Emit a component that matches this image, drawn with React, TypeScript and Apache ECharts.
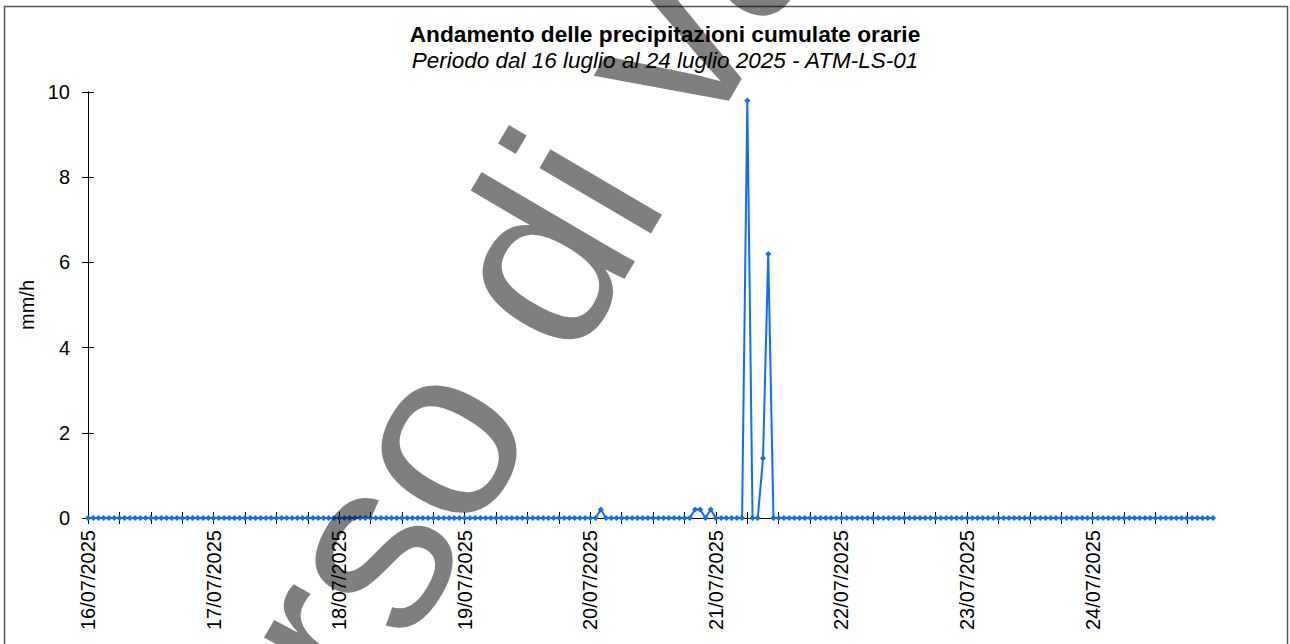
import React, { useEffect, useRef } from "react";
import * as echarts from "echarts";

const days = [
  "16/07/2025", "17/07/2025", "18/07/2025", "19/07/2025", "20/07/2025",
  "21/07/2025", "22/07/2025", "23/07/2025", "24/07/2025",
];
const hours = [
  "00:00", "01:00", "02:00", "03:00", "04:00", "05:00", "06:00", "07:00",
  "08:00", "09:00", "10:00", "11:00", "12:00", "13:00", "14:00", "15:00",
  "16:00", "17:00", "18:00", "19:00", "20:00", "21:00", "22:00", "23:00",
];

// hourly cumulated precipitation (mm/h), one array per day
const rain16 = [0, 0, 0, 0, 0, 0, 0, 0, 0, 0, 0, 0, 0, 0, 0, 0, 0, 0, 0, 0, 0, 0, 0, 0];
const rain17 = [0, 0, 0, 0, 0, 0, 0, 0, 0, 0, 0, 0, 0, 0, 0, 0, 0, 0, 0, 0, 0, 0, 0, 0];
const rain18 = [0, 0, 0, 0, 0, 0, 0, 0, 0, 0, 0, 0, 0, 0, 0, 0, 0, 0, 0, 0, 0, 0, 0, 0];
const rain19 = [0, 0, 0, 0, 0, 0, 0, 0, 0, 0, 0, 0, 0, 0, 0, 0, 0, 0, 0, 0, 0, 0, 0, 0];
const rain20 = [0, 0, 0.2, 0, 0, 0, 0, 0, 0, 0, 0, 0, 0, 0, 0, 0, 0, 0, 0, 0, 0.2, 0.2, 0, 0.2];
const rain21 = [0, 0, 0, 0, 0, 0, 9.8, 0, 0, 1.4, 6.2, 0, 0, 0, 0, 0, 0, 0, 0, 0, 0, 0, 0, 0];
const rain22 = [0, 0, 0, 0, 0, 0, 0, 0, 0, 0, 0, 0, 0, 0, 0, 0, 0, 0, 0, 0, 0, 0, 0, 0];
const rain23 = [0, 0, 0, 0, 0, 0, 0, 0, 0, 0, 0, 0, 0, 0, 0, 0, 0, 0, 0, 0, 0, 0, 0, 0];
const rain24 = [0, 0, 0, 0, 0, 0, 0, 0, 0, 0, 0, 0, 0, 0, 0, 0, 0, 0, 0, 0, 0, 0, 0, 0];

const title = "Andamento delle precipitazioni cumulate orarie";
const subtitle = "Periodo dal 16 luglio al 24 luglio 2025 - ATM-LS-01";
const yName = "mm/h";
const watermark = "corso di validazione";

const FONT = '"Liberation Sans", Arial, sans-serif';

export default function App() {
  const ref = useRef<HTMLDivElement>(null);

  useEffect(() => {
    if (!ref.current) return;
    const chart = echarts.init(ref.current, null, { renderer: "svg" });

    const categories: string[] = [];
    days.forEach((d) => hours.forEach((h) => categories.push(d + " " + h)));
    const values = [
      ...rain16, ...rain17, ...rain18, ...rain19, ...rain20,
      ...rain21, ...rain22, ...rain23, ...rain24,
    ];

    const axisColor = "#000";
    const baseX = {
      type: "category",
      data: categories,
      boundaryGap: false,
      position: "bottom",
      axisLine: { show: true, onZero: false, lineStyle: { color: axisColor, width: 1 } },
      splitLine: { show: false },
    };
    const baseY = {
      type: "value",
      min: 0,
      max: 10,
      interval: 2,
      position: "left",
      axisLine: { show: true, lineStyle: { color: axisColor, width: 1 } },
      splitLine: { show: false },
    };

    chart.setOption({
      animation: false,
      backgroundColor: "#fff",
      textStyle: { fontFamily: FONT },
      grid: { left: 88, right: 77, top: 92, bottom: 126, containLabel: false },
      xAxis: [
        {
          ...baseX,
          axisTick: { show: true, interval: 5, length: 6, inside: false, lineStyle: { color: axisColor } },
          axisLabel: {
            show: true,
            interval: 23,
            rotate: 90,
            margin: 12,
            color: "#000",
            fontSize: 20,
            fontFamily: FONT,
            formatter: (v: string) => v.split(" ")[0],
          },
        },
        {
          ...baseX,
          axisTick: { show: true, interval: 5, length: 6, inside: true, lineStyle: { color: axisColor } },
          axisLabel: { show: false },
        },
      ],
      yAxis: [
        {
          ...baseY,
          name: yName,
          nameLocation: "middle",
          nameGap: 45,
          nameRotate: 90,
          nameTextStyle: { color: "#000", fontSize: 20, fontFamily: FONT },
          axisTick: { show: true, length: 6, inside: false, lineStyle: { color: axisColor } },
          axisLabel: { show: true, margin: 18, color: "#000", fontSize: 20, fontFamily: FONT },
        },
        {
          ...baseY,
          axisTick: { show: true, length: 6, inside: true, lineStyle: { color: axisColor } },
          axisLabel: { show: false },
        },
      ],
      series: [
        {
          type: "line",
          data: values,
          xAxisIndex: 0,
          yAxisIndex: 0,
          color: "#0d6efd",
          lineStyle: { color: "#0d6efd", width: 2 },
          itemStyle: { color: "#0d6efd" },
          symbol: "diamond",
          symbolSize: 6,
          showSymbol: true,
          showAllSymbol: true,
          z: 3,
        },
      ],
      graphic: [
        {
          type: "rect",
          z: 0,
          silent: true,
          shape: { x: 4.5, y: 6.5, width: 1283, height: 700 },
          style: { fill: "none", stroke: "#555", lineWidth: 1.5 },
        },
        {
          type: "text",
          z: 10,
          x: 665,
          y: 34,
          style: {
            text: title,
            font: "bold 22.7px " + FONT,
            fill: "#000",
            textAlign: "center",
            textVerticalAlign: "middle",
          },
        },
        {
          type: "text",
          z: 10,
          x: 665,
          y: 60,
          style: {
            text: subtitle,
            font: "italic 22.5px " + FONT,
            fill: "#000",
            textAlign: "center",
            textVerticalAlign: "middle",
          },
        },
        {
          type: "text",
          z: 100,
          silent: true,
          x: 163,
          y: 897,
          rotation: 1.04,
          style: {
            text: watermark,
            font: "245px " + FONT,
            fill: "rgba(0,0,0,0.5)",
            textAlign: "left",
            textVerticalAlign: "middle",
          },
        },
      ],
    });

    return () => chart.dispose();
  }, []);

  return (
    <div
      ref={ref}
      style={{ position: "absolute", left: 0, top: 0, width: 1290, height: 644 }}
    />
  );
}
